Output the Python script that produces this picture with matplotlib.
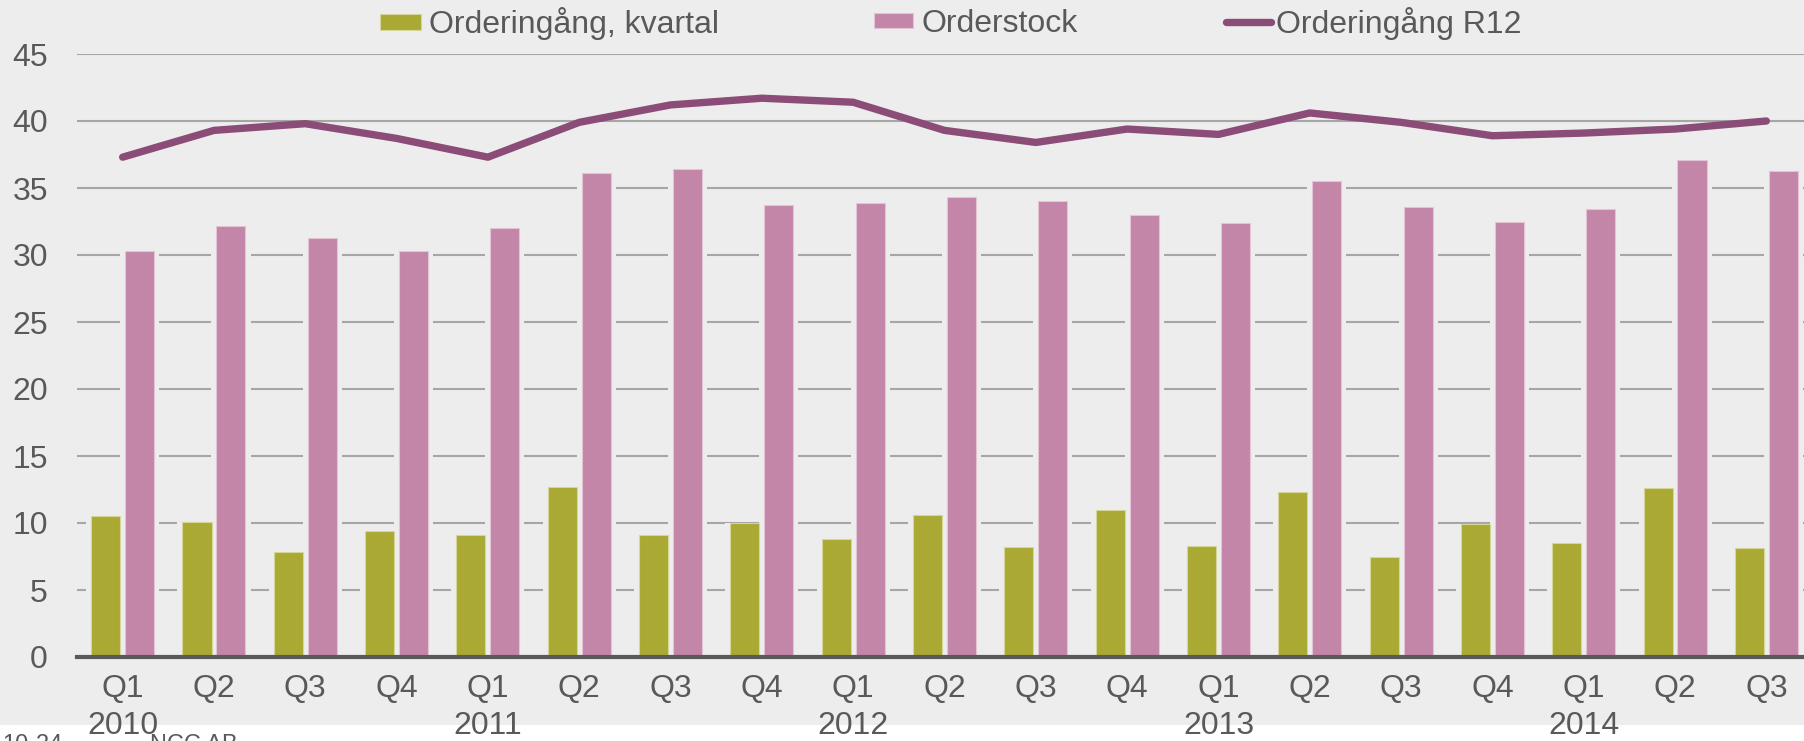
import numpy as np
import matplotlib
matplotlib.use("Agg")
import matplotlib.pyplot as plt
from matplotlib.patches import Rectangle

plt.rcParams['font.family'] = ['Liberation Sans', 'DejaVu Sans']

quarters = ["Q1", "Q2", "Q3", "Q4"] * 4 + ["Q1", "Q2", "Q3"]
years = ["2010", "2011", "2012", "2013", "2014"]

orderingang_kvartal = [10.5, 10.1, 7.8, 9.4, 9.1, 12.7, 9.1, 10.0, 8.8, 10.6,
                       8.2, 11.0, 8.3, 12.3, 7.5, 9.9, 8.5, 12.6, 8.1]
orderstock = [30.3, 32.2, 31.3, 30.3, 32.0, 36.1, 36.4, 33.7, 33.9, 34.3,
              34.0, 33.0, 32.4, 35.5, 33.6, 32.5, 33.4, 37.1, 36.3]
orderingang_r12 = [37.3, 39.3, 39.8, 38.7, 37.3, 39.9, 41.2, 41.7, 41.4, 39.3,
                   38.4, 39.4, 39.0, 40.6, 39.9, 38.9, 39.1, 39.4, 40.0]

labels = []
for i, q in enumerate(quarters):
    if q == "Q1":
        labels.append(q + "\n" + years[i // 4])
    else:
        labels.append(q)

bg = "#EDEDED"
green = "#A9A934"
pink = "#C386A8"
purple = "#8B4C78"
text_col = "#595959"

W, H = 1804, 741
fig = plt.figure(figsize=(W / 100, H / 100), dpi=100, facecolor="white")
# grey chart area, white strip at the very bottom
fig.add_artist(Rectangle((0, 1 - 725 / H), 1, 725 / H, transform=fig.transFigure,
                         facecolor=bg, edgecolor="none", zorder=-10))

ax = fig.add_axes([77 / W, 84 / H, 1735 / W, 603 / H])
ax.set_facecolor(bg)
ax.patch.set_alpha(0)

x = np.arange(len(quarters))
w = 0.318
off = 0.186

# background-colored halo behind the bars (gridlines stop short of the bars)
ax.bar(x - off, orderingang_kvartal, w + 0.11, color=bg, zorder=1.5)
ax.bar(x + off, orderstock, w + 0.11, color=bg, zorder=1.5)

b1 = ax.bar(x - off, orderingang_kvartal, w, color=green, edgecolor="#D6D69A",
            linewidth=0.8, zorder=2, label="Orderingång, kvartal")
b2 = ax.bar(x + off, orderstock, w, color=pink, edgecolor="#E2C4D4",
            linewidth=0.8, zorder=2, label="Orderstock")
l1, = ax.plot(x, orderingang_r12, color=purple, linewidth=5.3,
              solid_capstyle="round", solid_joinstyle="round", zorder=3,
              label="Orderingång R12")

ax.set_xlim(-0.5, len(quarters) - 0.5)
ax.set_ylim(0, 45)
ax.set_yticks(range(0, 50, 5))
ax.set_xticks(x)
ax.set_xticklabels(labels)
for lbl in ax.get_xticklabels():
    lbl.set_linespacing(1.34)
ax.yaxis.grid(True, color="#A6A6A6", linewidth=1.5)
ax.set_axisbelow(True)
ax.tick_params(axis="both", length=0, labelsize=23, labelcolor=text_col)
ax.tick_params(axis="y", pad=21)
ax.tick_params(axis="x", pad=12)
for s in ["left", "right", "top"]:
    ax.spines[s].set_visible(False)
ax.spines["bottom"].set_color(text_col)
ax.spines["bottom"].set_linewidth(3)
ax.spines["bottom"].set_zorder(4)

# legend entries placed one by one like the Excel legend
y_leg = 1 - 24 / H
common = dict(loc="center left", bbox_transform=fig.transFigure, frameon=False,
              fontsize=23, labelcolor=text_col, borderpad=0, borderaxespad=0)
fig.legend(handles=[b1], bbox_to_anchor=(380 / W, y_leg), handlelength=1.28,
           handleheight=0.35, handletextpad=0.26, **common)
fig.legend(handles=[b2], bbox_to_anchor=(874 / W, y_leg), handlelength=1.22,
           handleheight=0.35, handletextpad=0.28, **common)
fig.legend(handles=[l1], bbox_to_anchor=(1226 / W, y_leg), handlelength=1.4,
           handletextpad=0.15, **common)

# footer, cut off by the bottom edge
fig.text(2 / W, 1 - 734 / H, "10-24", fontsize=17, color=text_col, va="top")
fig.text(150 / W, 1 - 734 / H, "NCC AB", fontsize=17, color=text_col, va="top")

fig.savefig("out.png", dpi=100, facecolor="white")
